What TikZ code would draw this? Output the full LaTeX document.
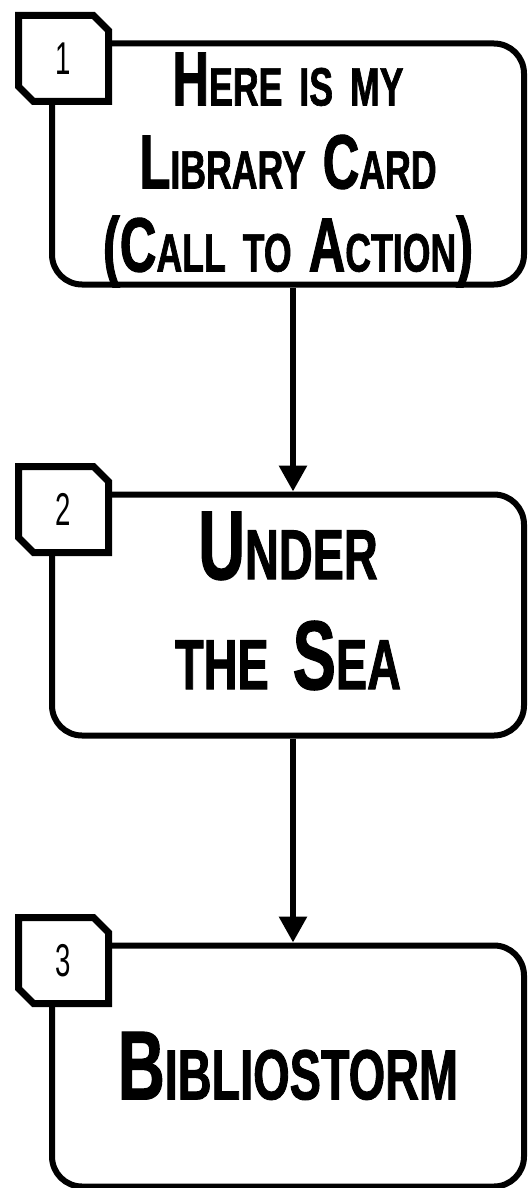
\documentclass[tikz,border=0pt]{standalone}
\usepackage{fontspec}
\usepackage{tikz}
\usetikzlibrary{arrows.meta, positioning}
\newfontfamily\headfont{Liberation Sans}[FakeStretch=0.66, FakeBold=1.2]
\newfontfamily\numfont{Liberation Sans}[FakeStretch=0.6]
\newcommand\lcsize{}
\newcommand\lc[1]{{\lcsize #1}}
\tikzset{
	stage/.style   ={rectangle, rounded corners=30pt, draw=black, line width=6pt, minimum width=472pt, minimum height=241pt, fill=white},
	tagframe/.style={rectangle, minimum width=90pt, minimum height=86pt, inner sep=0pt, outer sep=0pt},
	tagline/.style ={draw=black, fill=white, line width=7pt},
	tagnum/.style  ={font=\numfont\fontsize{46pt}{46pt}\selectfont},
	cardtxt/.style ={align=center, font={\headfont\bfseries\fontsize{77pt}{83pt}\selectfont\spaceskip=17pt\renewcommand\lcsize{\fontsize{54pt}{83pt}\selectfont\spaceskip=17pt}}},
	seatxt/.style  ={align=center, font={\headfont\bfseries\fontsize{98pt}{110pt}\selectfont\spaceskip=24pt\renewcommand\lcsize{\fontsize{71pt}{110pt}\selectfont\spaceskip=24pt}}},
	flowarrow/.style={-{Triangle[length=26pt, width=27pt]}, line width=6pt},
}
\begin{document}
\begin{tikzpicture}[node distance=204pt]
	\useasboundingbox (0,0) rectangle (530pt,-1188pt);
	\node[stage] (s1) at (288pt,-164pt) {};
	\node[stage, below=of s1] (s2) {};
	\node[stage, below=of s2] (s3) {};
	% step numbers
	\foreach \i in {1,2,3} {
		\node[tagframe] (t\i) at ([xshift=14.5pt, yshift=-18pt]s\i.north west) {};
		\filldraw[tagline] (t\i.north west) -- ([xshift=-15pt]t\i.north east) -- ([yshift=-15pt]t\i.north east)
			-- (t\i.south east) -- ([xshift=15pt]t\i.south west) -- ([yshift=15pt]t\i.south west) -- cycle;
		\node[tagnum] (n\i) at (t\i) {\i};
	}
	% captions
	\node[cardtxt] (c1) at ([yshift=-6pt]s1.center) {H\lc{ERE IS MY}\\L\lc{IBRARY} C\lc{ARD}\\(C\lc{ALL TO} A\lc{CTION})};
	\node[seatxt] (c2) at ([yshift=14pt]s2.center) {U\lc{NDER}\\\lc{THE} S\lc{EA}};
	\node[seatxt] (c3) at (s3.center) {B\lc{IBLIOSTORM}};
	\draw[flowarrow] ([xshift=5pt]s1.south) -- ([xshift=5pt]s2.north);
	\draw[flowarrow] ([xshift=5pt]s2.south) -- ([xshift=5pt]s3.north);
\end{tikzpicture}
\end{document}
